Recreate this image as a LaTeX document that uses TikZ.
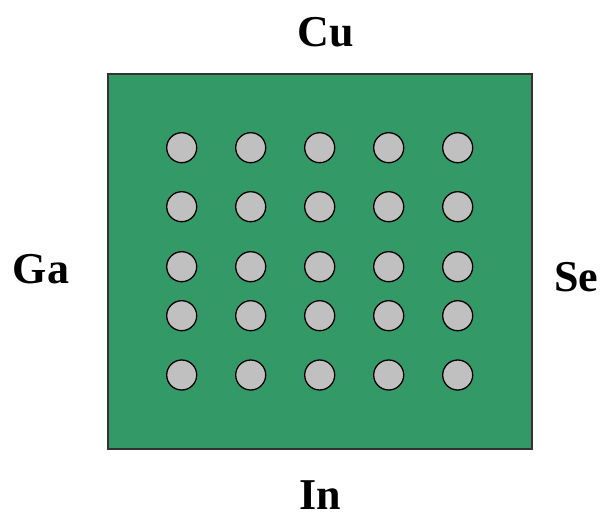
\documentclass[tikz,border=0pt]{standalone}
\usepackage{fontspec}
\setmainfont{Liberation Serif}
\definecolor{film}{HTML}{339966}
\definecolor{atomgray}{HTML}{C0C0C0}
\definecolor{edge}{HTML}{333333}
\begin{document}
\begin{tikzpicture}[x=1pt,y=-1pt,elem/.style={font=\fontsize{44}{44}\selectfont\bfseries,inner sep=0pt,anchor=base},atom/.style={circle,draw=black,fill=atomgray,line width=1.3pt,minimum size=30pt,inner sep=0pt}]
\useasboundingbox (0,0) rectangle (608,520);
\node[draw=edge,fill=film,line width=1.5pt,minimum width=424pt,minimum height=375pt,inner sep=0pt] (layer) at (320,261.5) {};
\foreach \c/\x in {1/181.7,2/250.7,3/319.7,4/388.7,5/457.7}{\foreach \r/\y in {1/147.7,2/206.7,3/266.7,4/315.7,5/375}{\node[atom] (a\r\c) at (\x,\y) {};}}
\node[elem] (cu) at (326,46) {Cu};
\node[elem] (ga) at (41,283) {Ga};
\node[elem] (se) at (576,291) {Se};
\node[elem] (in) at (320,509) {In};
\end{tikzpicture}
\end{document}
